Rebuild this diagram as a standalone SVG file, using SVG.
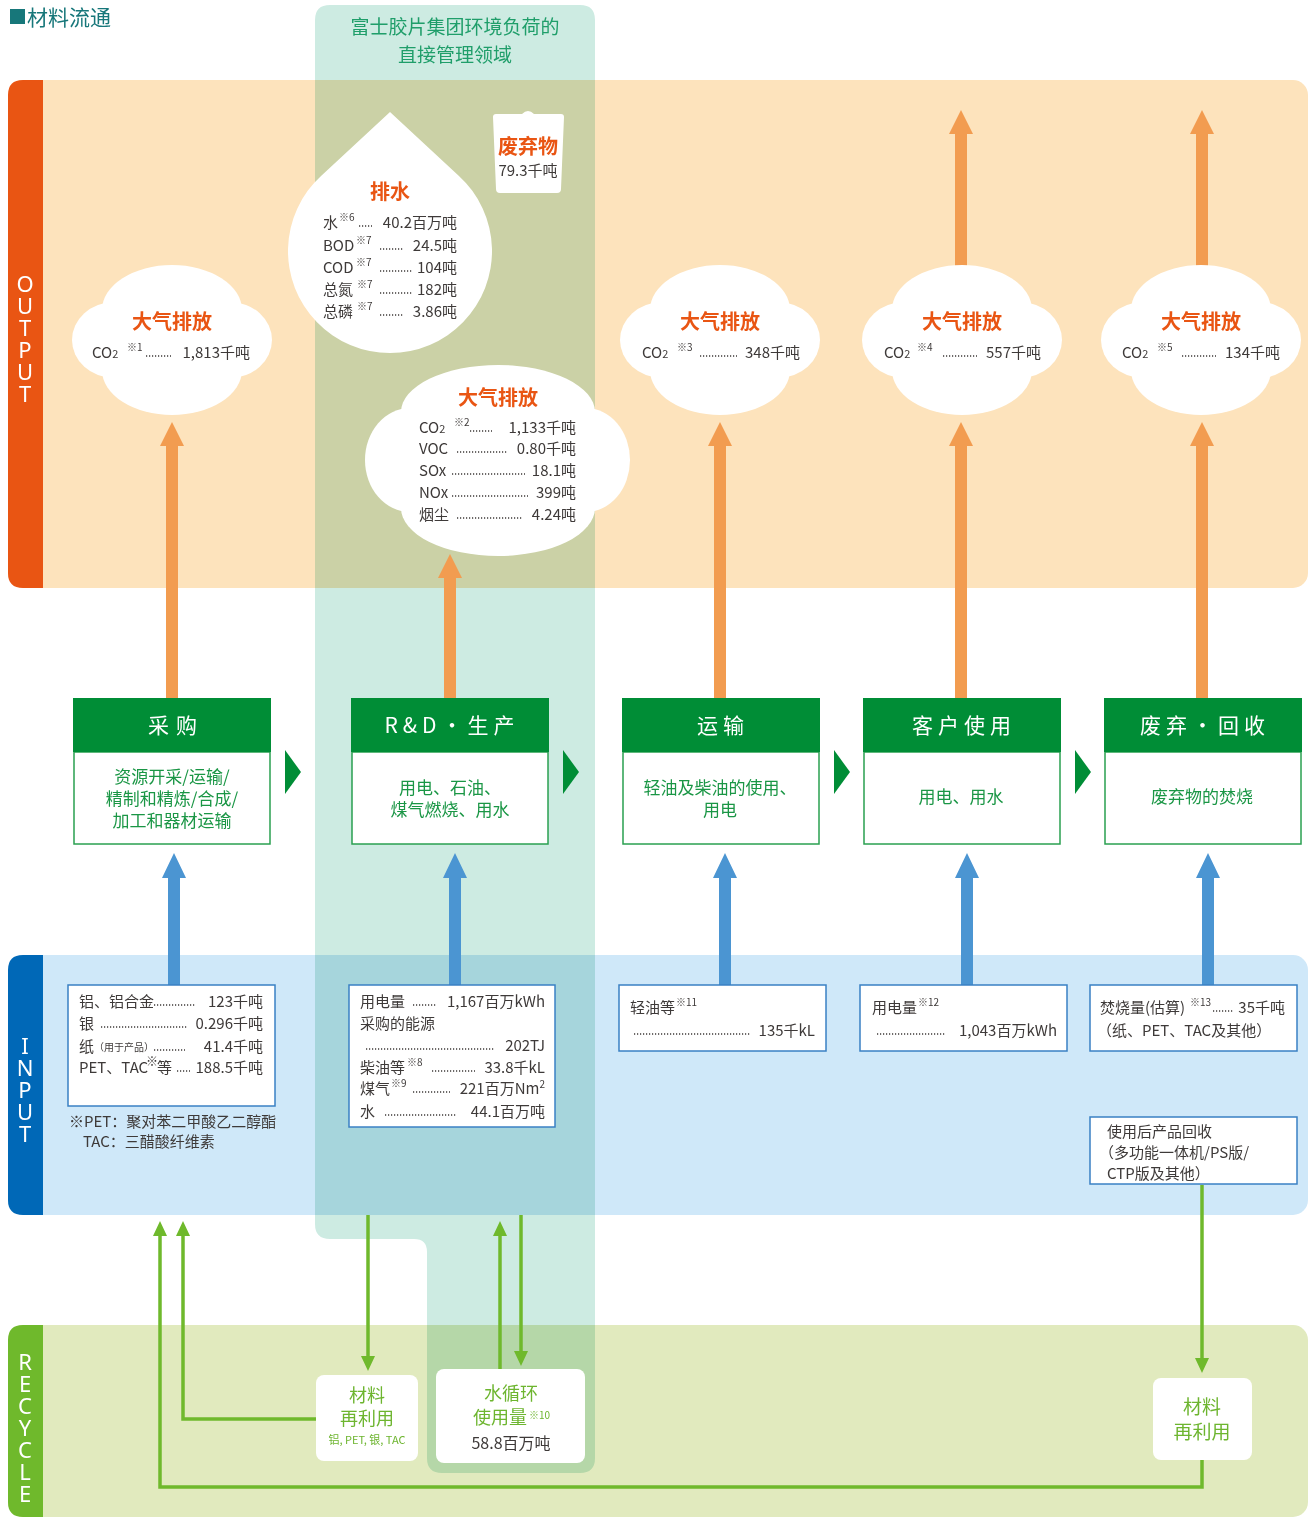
<svg xmlns="http://www.w3.org/2000/svg" width="1309" height="1517" viewBox="0 0 1309 1517">
<style>
text{font-family:"Noto Sans CJK SC","Noto Sans",sans-serif;}
.d{fill:#3e3a39;font-size:15px}
.s{fill:#3e3a39;font-size:10px}
.e{text-anchor:end}
.m{text-anchor:middle}
.ot{fill:#e95513;font-size:20px;font-weight:bold;text-anchor:middle}
.ld{stroke:#3e3a39;stroke-width:1.3;stroke-dasharray:1.2 1.8;fill:none}
.hd{fill:#008d36}
.ht{fill:#fff;font-size:21px;text-anchor:middle;letter-spacing:5px}
.bd{fill:#fff;stroke:#2aa050;stroke-width:1.5}
.bt{fill:#1a9645;font-size:17px;text-anchor:middle}
.ib{fill:#fff;stroke:#3a80c4;stroke-width:1.5}
.oa{fill:#f29c50}
.ba{fill:#4b95d2}
.gl{stroke:#6fb92c;stroke-width:3.5;fill:none}
.ga{fill:#6fb92c}
.lab{fill:#fff;font-size:22px;text-anchor:middle;font-family:"Noto Sans","Liberation Sans",sans-serif;writing-mode:vertical-rl;text-orientation:upright;letter-spacing:-8px}
.rt{fill:#6db52f;font-size:19px;text-anchor:middle}
.wn{fill:#fff}
</style>
<defs>
<g id="cl" class="wn">
<ellipse cx="0" cy="-30" rx="70" ry="45"/>
<ellipse cx="0" cy="30" rx="70" ry="45"/>
<ellipse cx="-58" cy="0" rx="42" ry="38"/>
<ellipse cx="58" cy="0" rx="42" ry="38"/>
<rect x="-70" y="-35" width="140" height="70"/>
</g>
</defs>

<!-- title -->
<g id="title">
<rect x="10" y="9" width="15" height="15" fill="#17777a"/>
<text x="27" y="25" font-size="21" fill="#17777a">材料流通</text>
</g>

<!-- bands -->
<g id="band-output">
<rect x="8" y="80" width="1300" height="508" rx="15" fill="#fde3bc"/>
<path d="M23,80 H43 V588 H23 Q8,588 8,573 V95 Q8,80 23,80 Z" fill="#e95513"/>
<text class="lab" x="25" y="334">OUTPUT</text>
</g>
<g id="band-input">
<rect x="8" y="955" width="1300" height="260" rx="15" fill="#cfe8f9"/>
<path d="M23,955 H43 V1215 H23 Q8,1215 8,1200 V970 Q8,955 23,955 Z" fill="#0068b7"/>
<text class="lab" x="25" y="1085">INPUT</text>
</g>
<g id="band-recycle">
<rect x="8" y="1325" width="1300" height="192" rx="15" fill="#e1eabe"/>
<path d="M23,1325 H43 V1517 H23 Q8,1517 8,1502 V1340 Q8,1325 23,1325 Z" fill="#6fb92c"/>
<text class="lab" x="25" y="1423">RECYCLE</text>
</g>

<!-- direct management column -->
<g id="direct-area">
<path d="M315,20 Q315,5 330,5 H580 Q595,5 595,20 V1458 Q595,1473 580,1473 H442 Q427,1473 427,1458 V1252 Q427,1239 414,1239 H330 Q315,1239 315,1224 Z" fill="#cdebe2" style="mix-blend-mode:multiply"/>
<text x="455" y="34" font-size="19" fill="#1f9e6a" text-anchor="middle">富士胶片集团环境负荷的</text>
<text x="455" y="62" font-size="19" fill="#1f9e6a" text-anchor="middle">直接管理领域</text>
</g>

<!-- connectors -->
<g id="connectors">
<path class="oa" d="M166,698 V446 H160 L172,422 L184,446 H178 V698 Z"/>
<path class="oa" d="M444,698 V578 H438 L450,554 L462,578 H456 V698 Z"/>
<path class="oa" d="M714,698 V446 H708 L720,422 L732,446 H726 V698 Z"/>
<path class="oa" d="M955,698 V446 H949 L961,422 L973,446 H967 V698 Z"/>
<path class="oa" d="M1196,698 V446 H1190 L1202,422 L1214,446 H1208 V698 Z"/>
<path class="oa" d="M955,300 V134 H949 L961,110 L973,134 H967 V300 Z"/>
<path class="oa" d="M1196,300 V134 H1190 L1202,110 L1214,134 H1208 V300 Z"/>
<path class="ba" d="M168,985 V878 H162 L174,853 L186,878 H180 V985 Z"/>
<path class="ba" d="M449,985 V878 H443 L455,853 L467,878 H461 V985 Z"/>
<path class="ba" d="M719,985 V878 H713 L725,853 L737,878 H731 V985 Z"/>
<path class="ba" d="M961,985 V878 H955 L967,853 L979,878 H973 V985 Z"/>
<path class="ba" d="M1202,985 V878 H1196 L1208,853 L1220,878 H1214 V985 Z"/>
<polygon class="hd" points="285,750 301,772 285,794"/>
<polygon class="hd" points="563,750 579,772 563,794"/>
<polygon class="hd" points="834,750 850,772 834,794"/>
<polygon class="hd" points="1075,750 1091,772 1075,794"/>
<path class="gl" d="M368,1215 V1357"/>
<polygon class="ga" points="361,1356 375,1356 368,1371"/>
<path class="gl" d="M500,1369 V1235"/>
<polygon class="ga" points="493,1236 507,1236 500,1221"/>
<path class="gl" d="M521,1215 V1352"/>
<polygon class="ga" points="514,1351 528,1351 521,1366"/>
<path class="gl" d="M316,1419 H183 V1235"/>
<polygon class="ga" points="176,1236 190,1236 183,1221"/>
<path class="gl" d="M1202,1460 V1487 H160 V1235"/>
<polygon class="ga" points="153,1236 167,1236 160,1221"/>
<path class="gl" d="M1202,1185 V1359"/>
<polygon class="ga" points="1195,1358 1209,1358 1202,1373"/>
</g>

<!-- output nodes -->
<g id="drain">
<path class="wn" d="M390,112 L458.7,175.7 A102,102 0 1 1 321.3,175.7 Z"/>
<text class="ot" x="390" y="199" font-size="19">排水</text>
<text class="d" x="323" y="228">水</text><text class="s" x="339" y="221">※6</text><path class="ld" d="M359,226 H372"/><text class="d e" x="457" y="228">40.2百万吨</text>
<text class="d" x="323" y="251">BOD</text><text class="s" x="356" y="244">※7</text><path class="ld" d="M380,249 H403"/><text class="d e" x="457" y="251">24.5吨</text>
<text class="d" x="323" y="273">COD</text><text class="s" x="356" y="266">※7</text><path class="ld" d="M380,271 H412"/><text class="d e" x="457" y="273">104吨</text>
<text class="d" x="323" y="295">总氮</text><text class="s" x="357" y="288">※7</text><path class="ld" d="M380,293 H412"/><text class="d e" x="457" y="295">182吨</text>
<text class="d" x="323" y="317">总磷</text><text class="s" x="357" y="310">※7</text><path class="ld" d="M380,315 H403"/><text class="d e" x="457" y="317">3.86吨</text>
</g>

<g id="waste">
<path class="wn" d="M493,117 Q493,114 496,114 H522 Q528,108 534,114 H561 Q564,114 564,117 L561,189 Q561,193 557,193 H500 Q496,193 496,189 Z"/>
<text class="ot" x="528" y="154" font-size="19">废弃物</text>
<text class="d m" x="528" y="176">79.3千吨</text>
</g>

<g id="air1">
<use href="#cl" x="172" y="340"/>
<text class="ot" x="172" y="329">大气排放</text>
<text class="d" x="92" y="358">CO<tspan font-size="11">2</tspan></text><text class="s" x="127" y="351">※1</text><path class="ld" d="M146,356 H171"/><text class="d e" x="250" y="358">1,813千吨</text>
</g>

<g id="air2">
<g class="wn">
<ellipse cx="498" cy="412" rx="97" ry="47"/>
<ellipse cx="498" cy="508" rx="97" ry="48"/>
<ellipse cx="410" cy="460" rx="45" ry="52"/>
<ellipse cx="586" cy="460" rx="44" ry="52"/>
<rect x="400" y="410" width="196" height="98"/>
</g>
<text class="ot" x="498" y="405">大气排放</text>
<text class="d" x="419" y="433">CO<tspan font-size="11">2</tspan></text><text class="s" x="454" y="426">※2</text><path class="ld" d="M470,431 H492"/><text class="d e" x="576" y="433">1,133千吨</text>
<text class="d" x="419" y="454">VOC</text><path class="ld" d="M457,452 H508"/><text class="d e" x="576" y="454">0.80千吨</text>
<text class="d" x="419" y="476">SOx</text><path class="ld" d="M452,474 H525"/><text class="d e" x="576" y="476">18.1吨</text>
<text class="d" x="419" y="498">NOx</text><path class="ld" d="M452,496 H528"/><text class="d e" x="576" y="498">399吨</text>
<text class="d" x="419" y="520">烟尘</text><path class="ld" d="M457,518 H523"/><text class="d e" x="576" y="520">4.24吨</text>
</g>

<g id="air3">
<use href="#cl" x="720" y="340"/>
<text class="ot" x="720" y="329">大气排放</text>
<text class="d" x="642" y="358">CO<tspan font-size="11">2</tspan></text><text class="s" x="677" y="351">※3</text><path class="ld" d="M700,356 H737"/><text class="d e" x="800" y="358">348千吨</text>
</g>

<g id="air4">
<use href="#cl" x="962" y="340"/>
<text class="ot" x="962" y="329">大气排放</text>
<text class="d" x="884" y="358">CO<tspan font-size="11">2</tspan></text><text class="s" x="917" y="351">※4</text><path class="ld" d="M943,356 H977"/><text class="d e" x="1041" y="358">557千吨</text>
</g>

<g id="air5">
<use href="#cl" x="1201" y="340"/>
<text class="ot" x="1201" y="329">大气排放</text>
<text class="d" x="1122" y="358">CO<tspan font-size="11">2</tspan></text><text class="s" x="1157" y="351">※5</text><path class="ld" d="M1182,356 H1216"/><text class="d e" x="1280" y="358">134千吨</text>
</g>

<!-- process nodes -->
<g id="p-procure">
<rect class="bd" x="74" y="752" width="196" height="92"/>
<rect class="hd" x="73" y="698" width="198" height="54"/>
<text class="ht" x="176" y="733" style="letter-spacing:7px">采购</text>
<text class="bt" x="172" y="783">资源开采/运输/</text>
<text class="bt" x="172" y="805">精制和精炼/合成/</text>
<text class="bt" x="172" y="827">加工和器材运输</text>
</g>
<g id="p-production">
<rect class="bd" x="352" y="752" width="196" height="92"/>
<rect class="hd" x="351" y="698" width="198" height="54"/>
<text class="ht" x="452" y="733">R&amp;D·生产</text>
<text class="bt" x="450" y="794">用电、石油、</text>
<text class="bt" x="450" y="816">煤气燃烧、用水</text>
</g>
<g id="p-transport">
<rect class="bd" x="623" y="752" width="196" height="92"/>
<rect class="hd" x="622" y="698" width="198" height="54"/>
<text class="ht" x="723" y="733">运输</text>
<text class="bt" x="720" y="794">轻油及柴油的使用、</text>
<text class="bt" x="720" y="816">用电</text>
</g>
<g id="p-customer">
<rect class="bd" x="864" y="752" width="196" height="92"/>
<rect class="hd" x="863" y="698" width="198" height="54"/>
<text class="ht" x="964" y="733">客户使用</text>
<text class="bt" x="961" y="803">用电、用水</text>
</g>
<g id="p-disposal">
<rect class="bd" x="1105" y="752" width="196" height="92"/>
<rect class="hd" x="1104" y="698" width="198" height="54"/>
<text class="ht" x="1205" y="733">废弃·回收</text>
<text class="bt" x="1202" y="803">废弃物的焚烧</text>
</g>

<!-- input nodes -->
<g id="in-procure">
<rect class="ib" x="68" y="985" width="207" height="121"/>
<text class="d" x="79" y="1007">铝、铝合金</text><path class="ld" d="M154,1005 H196"/><text class="d e" x="263" y="1007">123千吨</text>
<text class="d" x="79" y="1029">银</text><path class="ld" d="M101,1027 H187"/><text class="d e" x="263" y="1029">0.296千吨</text>
<text class="d" x="79" y="1052">纸</text><text class="s" x="94" y="1051">（用于产品）</text><path class="ld" d="M154,1050 H185"/><text class="d e" x="263" y="1052">41.4千吨</text>
<text class="d" x="79" y="1073">PET、TAC</text><text class="s" x="146" y="1066" style="font-size:12px">※</text><text class="d" x="157" y="1073">等</text><path class="ld" d="M177,1071 H190"/><text class="d e" x="263" y="1073">188.5千吨</text>
<text class="d" x="69" y="1127">※PET：聚对苯二甲酸乙二醇酯</text>
<text class="d" x="83" y="1147">TAC：三醋酸纤维素</text>
</g>
<g id="in-production">
<rect class="ib" x="349" y="985" width="206" height="142"/>
<text class="d" x="360" y="1007">用电量</text><path class="ld" d="M413,1005 H437"/><text class="d e" x="545" y="1007">1,167百万kWh</text>
<text class="d" x="360" y="1029">采购的能源</text>
<path class="ld" d="M366,1049 H495"/><text class="d e" x="545" y="1051">202TJ</text>
<text class="d" x="360" y="1073">柴油等</text><text class="s" x="407" y="1066">※8</text><path class="ld" d="M432,1071 H475"/><text class="d e" x="545" y="1073">33.8千kL</text>
<text class="d" x="360" y="1094">煤气</text><text class="s" x="391" y="1087">※9</text><path class="ld" d="M413,1092 H450"/><text class="d e" x="545" y="1094">221百万Nm<tspan font-size="10" dy="-6">2</tspan></text>
<text class="d" x="360" y="1117">水</text><path class="ld" d="M385,1115 H457"/><text class="d e" x="545" y="1117">44.1百万吨</text>
</g>
<g id="in-transport">
<rect class="ib" x="619" y="985" width="207" height="66"/>
<text class="d" x="630" y="1013">轻油等</text><text class="s" x="676" y="1006">※11</text>
<path class="ld" d="M634,1034 H750"/><text class="d e" x="815" y="1036">135千kL</text>
</g>
<g id="in-customer">
<rect class="ib" x="860" y="985" width="207" height="66"/>
<text class="d" x="872" y="1013">用电量</text><text class="s" x="918" y="1006">※12</text>
<path class="ld" d="M877,1034 H945"/><text class="d e" x="1057" y="1036">1,043百万kWh</text>
</g>
<g id="in-disposal">
<rect class="ib" x="1090" y="985" width="207" height="66"/>
<text class="d" x="1100" y="1013">焚烧量(估算)</text><text class="s" x="1190" y="1006">※13</text><path class="ld" d="M1213,1011 H1234"/><text class="d e" x="1285" y="1013">35千吨</text>
<text class="d" x="1097" y="1036">（纸、PET、TAC及其他）</text>
</g>
<g id="in-collect">
<rect class="ib" x="1090" y="1117" width="207" height="67"/>
<text class="d" x="1107" y="1137">使用后产品回收</text>
<text class="d" x="1099" y="1158">（多功能一体机/PS版/</text>
<text class="d" x="1107" y="1179">CTP版及其他）</text>
</g>

<!-- recycle nodes -->
<g id="r-material-left">
<rect class="wn" x="316" y="1375" width="102" height="86" rx="8"/>
<text class="rt" x="367" y="1402" style="font-size:18px">材料</text>
<text class="rt" x="367" y="1425" style="font-size:18px">再利用</text>
<text class="rt" x="367" y="1444" style="font-size:11px">铝, PET, 银, TAC</text>
</g>
<g id="r-water">
<rect class="wn" x="436" y="1369" width="149" height="94" rx="8"/>
<text class="rt" x="511" y="1400" style="font-size:18px">水循环</text>
<text class="rt" x="500" y="1424" style="font-size:18px">使用量</text><text class="s" x="529" y="1419" style="fill:#6db52f">※10</text>
<text class="m" x="511" y="1449" font-size="16" fill="#3e3a39">58.8百万吨</text>
</g>
<g id="r-material-right">
<rect class="wn" x="1153" y="1378" width="99" height="82" rx="8"/>
<text class="rt" x="1202" y="1414">材料</text>
<text class="rt" x="1202" y="1439">再利用</text>
</g>
</svg>
